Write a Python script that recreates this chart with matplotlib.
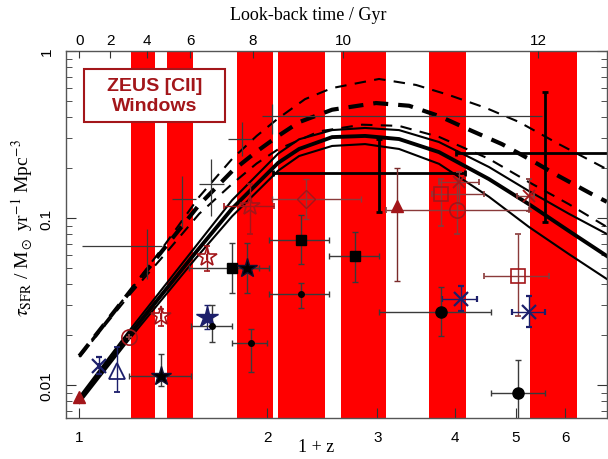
import numpy as np
import matplotlib
matplotlib.use("Agg")
import matplotlib.pyplot as plt
from matplotlib.patches import Rectangle

plt.rcParams['mathtext.fontset'] = 'stix'

# ==========================================
# Data
# ==========================================
# ZEUS [CII] windows, in 1+z
band_lo = [1.211, 1.383, 1.789, 2.082, 2.626, 3.631, 5.268]
band_hi = [1.323, 1.522, 2.044, 2.475, 3.099, 4.161, 6.262]

# model curves: x values (1+z) and SFR density
sol_x = [1.000, 1.202, 1.533, 1.757, 2.082, 2.249, 2.540, 2.868, 3.251, 3.767, 4.529, 5.248, 6.081, 6.995]
sol_up = [0.00848, 0.0211, 0.0670, 0.128, 0.243, 0.296, 0.336, 0.346, 0.336, 0.285, 0.202, 0.145, 0.106, 0.0802]
sol_mid = [0.00813, 0.0199, 0.0616, 0.114, 0.214, 0.259, 0.305, 0.310, 0.297, 0.248, 0.171, 0.121, 0.0836, 0.0592]
sol_lo = [0.00780, 0.0188, 0.0568, 0.1025, 0.192, 0.235, 0.270, 0.277, 0.259, 0.211, 0.134, 0.0884, 0.0608, 0.0431]

dtop_x = [1.000, 1.211, 1.373, 1.556, 1.757, 1.923, 2.082, 2.299, 2.540, 3.020, 3.462, 3.908, 4.479, 5.058, 5.861, 6.995]
dtop_y = [0.0150, 0.0374, 0.0698, 0.134, 0.226, 0.310, 0.395, 0.515, 0.600, 0.680, 0.626, 0.545, 0.456, 0.376, 0.277, 0.196]

dthk_x = [1.000, 1.211, 1.373, 1.556, 1.757, 1.923, 2.082, 2.249, 2.540, 2.987, 3.373, 3.767, 4.254, 4.751, 5.248, 5.861, 6.619, 6.995]
dthk_y = [0.0149, 0.0371, 0.0670, 0.120, 0.191, 0.250, 0.310, 0.375, 0.445, 0.488, 0.470, 0.408, 0.332, 0.277, 0.226, 0.178, 0.139, 0.125]

dlow_x = [1.000, 1.211, 1.373, 1.556, 1.757, 1.923, 2.082, 2.421, 2.837, 3.251, 3.767, 4.529, 5.248, 6.081, 6.995]
dlow_y = [0.0147, 0.0356, 0.0610, 0.106, 0.160, 0.212, 0.258, 0.330, 0.362, 0.356, 0.306, 0.226, 0.164, 0.121, 0.0884]

# data points: value, lower, upper (x and y)
bsq_x = [1.757, 2.265, 2.765]; bsq_xlo = [1.500, 2.014, 2.512]; bsq_xhi = [1.941, 2.512, 3.020]
bsq_y = [0.0502, 0.0738, 0.0592]; bsq_ylo = [0.0356, 0.0531, 0.0414]; bsq_yhi = [0.0709, 0.104, 0.0825]

bdot_x = [1.632, 1.884, 2.265]; bdot_xlo = [1.511, 1.757, 2.014]; bdot_xhi = [1.757, 1.999, 2.512]
bdot_y = [0.0226, 0.0178, 0.0351]; bdot_ylo = [0.0181, 0.0120, 0.0290]; bdot_yhi = [0.0301, 0.0216, 0.0408]

bcir_x = [3.795, 5.040]; bcir_xlo = [3.020, 4.562]; bcir_xhi = [4.562, 5.567]
bcir_y = [0.0274, 0.00895]; bcir_ylo = [0.0196, 0.006]; bcir_yhi = [0.0386, 0.0141]

bstar_x = [1.353, 1.857]; bstar_xlo = [1.202, 1.757]; bstar_xhi = [1.511, 2.014]
bstar_y = [0.0113, 0.0502]; bstar_ylo = [0.00986, 0.0356]; bstar_yhi = [0.0153, 0.0709]

nstar_x = [1.603]; nstar_y = [0.0255]; nstar_ylo = [0.0216]; nstar_yhi = [0.0301]

ncross_x = [1.076, 4.085, 5.248]; ncross_xlo = [1.076, 3.809, 4.929]; ncross_xhi = [1.076, 4.333, 5.567]
ncross_y = [0.0130, 0.0327, 0.0274]; ncross_ylo = [0.0116, 0.0277, 0.0222]; ncross_yhi = [0.0147, 0.0392, 0.0341]

ntri_x = [1.150]; ntri_y = [0.0121]; ntri_ylo = [0.00908]; ntri_yhi = [0.0169]

rtri_x = [1.000, 3.228]; rtri_y = [0.00848, 0.118]; rtri_ylo = [0.00848, 0.0419]; rtri_yhi = [0.00848, 0.199]

rstar_x = [1.353, 1.603, 1.877]; rstar_xlo = [1.353, 1.603, 1.706]; rstar_xhi = [1.353, 1.603, 2.050]
rstar_y = [0.0259, 0.0584, 0.118]; rstar_ylo = [0.0226, 0.0482, 0.0802]; rstar_yhi = [0.0285, 0.0679, 0.160]

rcir_x = [1.202, 4.025]; rcir_xlo = [1.202, 3.099]; rcir_xhi = [1.202, 5.248]
rcir_y = [0.0194, 0.112]; rcir_ylo = [0.0194, 0.0802]; rcir_yhi = [0.0194, 0.171]

rsq_x = [3.795, 5.040]; rsq_xlo = [3.671, 4.446]; rsq_xhi = [4.446, 5.649]
rsq_y = [0.139, 0.0450]; rsq_ylo = [0.0896, 0.0259]; rsq_yhi = [0.171, 0.0802]

rdia_x = [2.307]; rdia_xlo = [2.036]; rdia_xhi = [2.826]
rdia_y = [0.130]; rdia_ylo = [0.0987]; rdia_yhi = [0.171]

rast_x = [4.055, 5.248]; rast_xlo = [3.767, 5.021]; rast_xhi = [4.365, 5.346]
rast_y = [0.164, 0.135]; rast_ylo = [0.121, 0.110]; rast_yhi = [0.188, 0.171]

# bins with no marker
thick_x = [3.020, 5.567]; thick_xlo = [2.044, 4.010]; thick_xhi = [4.146, 7.5]
thick_y = [0.186, 0.245]; thick_ylo = [0.109, 0.0947]; thick_yhi = [0.297, 0.568]

thin_x = [1.285, 1.462, 1.626, 1.823, 2.036]; thin_xlo = [1.011, 1.409, 1.556, 1.731, 1.963]
thin_xhi = [1.358, 1.539, 1.706, 1.891, 5.506]
thin_y = [0.0679, 0.130, 0.160, 0.297, 0.408]; thin_ylo = [0.0431, 0.0884, 0.103, 0.235, 0.318]
thin_yhi = [0.0860, 0.178, 0.226, 0.376, 0.482]

# look-back time axis (Gyr) and where its ticks sit in 1+z
lb_gyr = [0, 2, 4, 6, 8, 10, 12]
lb_pos = [1.0, 1.121, 1.285, 1.505, 1.898, 2.646, 5.43]

DARKRED = '#a3161a'
NAVY = '#1c1f6b'
GREY = '#3a3a3a'


def err(v, lo, hi):
    v = np.asarray(v); lo = np.asarray(lo); hi = np.asarray(hi)
    return [v - lo, hi - v]


def pts(ax, x, y, xlo=None, xhi=None, ylo=None, yhi=None, ecolor=GREY, elw=1.0, cap=2.5, **kw):
    xe = err(x, xlo, xhi) if xlo is not None else None
    ye = err(y, ylo, yhi) if ylo is not None else None
    ax.errorbar(x, y, xerr=xe, yerr=ye, ecolor=ecolor, elinewidth=elw, capsize=cap,
                capthick=elw, linestyle='none', zorder=5, **kw)


# ==========================================
# Figure
# ==========================================
fig = plt.figure(figsize=(6.08, 4.60), dpi=100)
ax = fig.add_axes([66 / 608, 1 - 419 / 460, 541 / 608, 367 / 460])
ax.set_xscale('log')
ax.set_yscale('log')
ax.set_xlim(0.952, 7.0)
ax.set_ylim(0.00634, 1.0)

for lo, hi in zip(band_lo, band_hi):
    ax.axvspan(lo, hi, color='#ff0000', lw=0, zorder=1)

# model curves
ax.plot(sol_x, sol_up, color='black', lw=1.5, zorder=3)
ax.plot(sol_x, sol_mid, color='black', lw=2.8, zorder=3)
ax.plot(sol_x, sol_lo, color='black', lw=1.5, zorder=3)
ax.plot(dtop_x, dtop_y, color='black', lw=1.5, dashes=(5.5, 4), zorder=3)
ax.plot(dthk_x, dthk_y, color='black', lw=3.0, dashes=(3.6, 2.4), zorder=3)
ax.plot(dlow_x, dlow_y, color='black', lw=1.5, dashes=(5.5, 4), zorder=3)

# thick and thin crosses
pts(ax, thick_x, thick_y, thick_xlo, thick_xhi, thick_ylo, thick_yhi, ecolor='black', elw=2.0, cap=2, fmt='none')
pts(ax, thin_x, thin_y, thin_xlo, thin_xhi, thin_ylo, thin_yhi, ecolor=GREY, elw=0.9, cap=0, fmt='none')

# red points
pts(ax, rtri_x, rtri_y, None, None, rtri_ylo, rtri_yhi, ecolor='#7a2a2a', fmt='^',
    color=DARKRED, ms=9)
pts(ax, rstar_x, rstar_y, rstar_xlo, rstar_xhi, rstar_ylo, rstar_yhi, ecolor=DARKRED, fmt='*',
    mfc='none', mec=DARKRED, mew=1.2, ms=15)
pts(ax, rcir_x, rcir_y, rcir_xlo, rcir_xhi, rcir_ylo, rcir_yhi, ecolor='#8a3a3a', fmt='o',
    mfc='none', mec=DARKRED, mew=1.2, ms=11)
pts(ax, rsq_x, rsq_y, rsq_xlo, rsq_xhi, rsq_ylo, rsq_yhi, ecolor='#8a3a3a', fmt='s',
    mfc='none', mec=DARKRED, mew=1.2, ms=10)
pts(ax, rdia_x, rdia_y, rdia_xlo, rdia_xhi, rdia_ylo, rdia_yhi, ecolor='#8a3a3a', fmt='D',
    mfc='none', mec=DARKRED, mew=1.0, ms=9)
pts(ax, rast_x, rast_y, rast_xlo, rast_xhi, rast_ylo, rast_yhi, ecolor='#8a3a3a', fmt='x',
    color=DARKRED, mew=1.3, ms=9)

# navy points
pts(ax, ntri_x, ntri_y, None, None, ntri_ylo, ntri_yhi, ecolor=NAVY, fmt='^',
    mfc='none', mec=NAVY, mew=1.3, ms=11)
pts(ax, ncross_x, ncross_y, ncross_xlo, ncross_xhi, ncross_ylo, ncross_yhi, ecolor=NAVY, fmt='x',
    color=NAVY, mew=1.6, ms=10)
pts(ax, nstar_x, nstar_y, None, None, nstar_ylo, nstar_yhi, ecolor=NAVY, fmt='*',
    color=NAVY, ms=16)

# black points
pts(ax, bsq_x, bsq_y, bsq_xlo, bsq_xhi, bsq_ylo, bsq_yhi, fmt='s', color='black', ms=7)
pts(ax, bdot_x, bdot_y, bdot_xlo, bdot_xhi, bdot_ylo, bdot_yhi, fmt='o', color='black', ms=4)
pts(ax, bcir_x, bcir_y, bcir_xlo, bcir_xhi, bcir_ylo, bcir_yhi, fmt='o', color='black', ms=8)
pts(ax, bstar_x, bstar_y, bstar_xlo, bstar_xhi, bstar_ylo, bstar_yhi, fmt='*', color='black',
    mec='#101030', ms=15)

# legend box
ax.add_patch(Rectangle((0.0333, 0.8065), 0.2606, 0.1444, transform=ax.transAxes,
                       facecolor='white', edgecolor=DARKRED, lw=1.5, zorder=8))
ax.text(0.1636, 0.8787, 'ZEUS [CII]\nWindows', transform=ax.transAxes, ha='center', va='center',
        color=DARKRED, fontsize=14, fontweight='bold', family='Liberation Sans',
        linespacing=1.3, zorder=9)

# axes styling
ax.set_xticks([1, 2, 3, 4, 5, 6])
ax.set_xticklabels(['1', '2', '3', '4', '5', '6'])
ax.set_yticks([0.01, 0.1, 1])
ax.set_yticklabels(['0.01', '0.1', '1'], rotation=90, va='center')
ax.xaxis.set_minor_formatter(plt.NullFormatter())
ax.tick_params(which='both', direction='in', top=False, right=True, labelsize=11, colors='#333333')
ax.tick_params(which='major', length=7)
ax.tick_params(which='minor', length=4)
ax.tick_params(axis='x', which='major', pad=9)
ax.tick_params(axis='y', which='major', pad=9)
for lab in ax.get_xticklabels() + ax.get_yticklabels():
    lab.set_family('Liberation Sans')
    lab.set_color('black')
for s in ax.spines.values():
    s.set_color('#555555')
    s.set_linewidth(1.0)
    s.set_zorder(10)

fig.text(316 / 608, 1 - 448 / 460, '1 + z', family='Liberation Serif', fontsize=13,
         ha='center', va='center')
fig.text(22 / 608, 1 - 228 / 460, r'$\tau_{\rm SFR}$ / M$_\odot$ yr$^{-1}$ Mpc$^{-3}$',
         family='Liberation Serif', fontsize=14, rotation=90, ha='center', va='center')
fig.text(308 / 608, 1 - 15 / 460, 'Look-back time / Gyr', family='Liberation Serif', fontsize=13,
         ha='center', va='center')

top = ax.twiny()
top.set_xscale('log')
top.set_xlim(ax.get_xlim())
top.set_xticks(lb_pos)
top.set_xticklabels([str(v) for v in lb_gyr], family='Liberation Sans', fontsize=11)
top.xaxis.set_minor_locator(matplotlib.ticker.NullLocator())
top.tick_params(direction='in', length=5, pad=3, colors='#333333', labelcolor='black')
for s in top.spines.values():
    s.set_visible(False)

fig.savefig('out.png', dpi=100)
